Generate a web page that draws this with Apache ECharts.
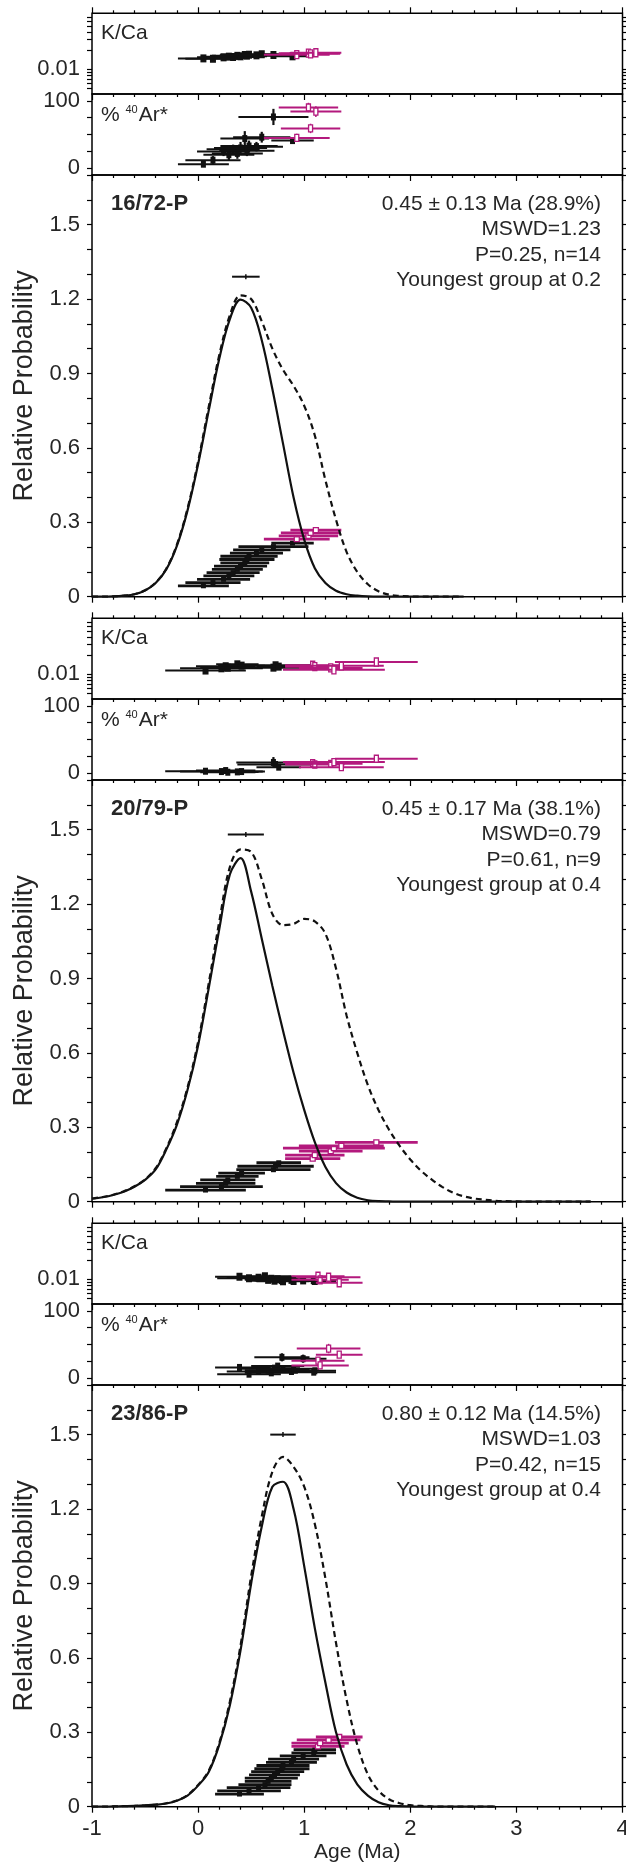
<!DOCTYPE html>
<html lang="en">
<head>
<meta charset="UTF-8">
<title>40Ar/39Ar age probability plots</title>
<script src="https://cdn.jsdelivr.net/npm/echarts@6/dist/echarts.min.js"></script>
<style>
  html, body { margin: 0; padding: 0; background: #fff; }
  #chart { width: 626px; height: 1870px; }
</style>
</head>
<body>
<div id="chart"></div>
<script>
// ---------- data ----------
var sampleNames = ['16/72-P', '20/79-P', '23/86-P'];
var statLines = [
  ['0.45 \u00b1 0.13 Ma (28.9%)', 'MSWD=1.23', 'P=0.25, n=14', 'Youngest group at 0.2'],
  ['0.45 \u00b1 0.17 Ma (38.1%)', 'MSWD=0.79', 'P=0.61, n=9', 'Youngest group at 0.4'],
  ['0.80 \u00b1 0.12 Ma (14.5%)', 'MSWD=1.03', 'P=0.42, n=15', 'Youngest group at 0.4']
];

// tick labels
var ageTicks = [-1, 0, 1, 2, 3, 4];
var probLabels = [0, 0.3, 0.6, 0.9, 1.2, 1.5];
var arLabels = [0, 100];
var arTicks = [0, 25, 50, 75, 100];
var kcaLabels = [0.01];
var kcaTicks = [0.005, 0.006, 0.007, 0.008, 0.009, 0.01, 0.02, 0.03, 0.04, 0.05, 0.06, 0.07];

// weighted mean ages (age, error, plotted level)
var meanAge = [0.45, 0.45, 0.80];
var meanErr = [0.13, 0.17, 0.12];
var meanLevel = [1.29, 1.48, 1.50];

// probability curves, sampled every 0.1 Ma from -1
var curveAges = [-1.0,-0.9,-0.8,-0.7,-0.6,-0.5,-0.4,-0.3,-0.2,-0.1,0.0,0.1,0.2,0.3,0.4,0.5,0.6,0.7,0.8,0.9,
  1.0,1.1,1.2,1.3,1.4,1.5,1.6,1.7,1.8,1.9,2.0,2.1,2.2,2.3,2.4,2.5,2.6,2.7,2.8,2.9,3.0,3.1,3.2,3.3,3.4,3.5,3.6,3.7];
var g1Solid = [0,0,0.001,0.004,0.010,0.025,0.055,0.110,0.205,0.347,0.534,0.750,0.960,1.120,1.198,1.165,1.034,0.837,0.618,0.400,
  0.230,0.115,0.055,0.024,0.010,0.004,0.001,0,0,0,0,0,0,0,0,0];
var g1Dashed = [0,0,0.001,0.004,0.010,0.026,0.057,0.113,0.210,0.355,0.545,0.765,0.975,1.135,1.215,1.200,1.110,1.000,0.915,0.850,
  0.770,0.650,0.470,0.310,0.180,0.100,0.050,0.022,0.008,0.003,0.001,0,0,0,0,0];
var g2Solid = [0.012,0.018,0.027,0.040,0.060,0.088,0.130,0.210,0.310,0.450,0.630,0.860,1.100,1.320,1.385,1.250,1.060,0.870,0.690,0.520,
  0.370,0.240,0.140,0.075,0.037,0.016,0.006,0.002,0.001,0,0,0,0,0,0,0,0,0,0,0,0,0,0,0,0,0,0,0];
var g2Dashed = [0.013,0.019,0.028,0.042,0.062,0.090,0.135,0.215,0.320,0.460,0.645,0.880,1.130,1.350,1.420,1.410,1.300,1.160,1.115,1.120,
  1.140,1.130,1.080,0.940,0.750,0.600,0.470,0.370,0.290,0.225,0.170,0.125,0.090,0.060,0.037,0.022,0.013,0.008,0.004,0.002,
  0.001,0,0,0,0,0,0,0];
var g3Solid = [0,0,0.001,0.002,0.003,0.005,0.008,0.013,0.024,0.045,0.085,0.140,0.250,0.410,0.630,0.900,1.130,1.290,1.310,1.200,
  0.970,0.720,0.500,0.300,0.170,0.090,0.045,0.018,0.006,0.002,0.001,0,0,0,0,0,0,0,0];
var g3Dashed = [0,0,0.001,0.002,0.003,0.005,0.008,0.014,0.025,0.047,0.088,0.145,0.258,0.425,0.650,0.930,1.170,1.350,1.410,1.370,
  1.290,1.140,0.920,0.660,0.430,0.250,0.130,0.065,0.030,0.014,0.006,0.003,0.001,0,0,0,0,0,0];

// single grains: included (black) first, then excluded (magenta)
var g1Age  = [0.05,0.14,0.24,0.29,0.33,0.37,0.40,0.44,0.46,0.48,0.55,0.60,0.71,0.89, 0.93,1.04,1.06,1.11];
var g1Err  = [0.24,0.26,0.25,0.24,0.25,0.24,0.25,0.23,0.26,0.27,0.25,0.27,0.33,0.20, 0.31,0.28,0.28,0.24];
var g1KCa  = [0.0150,0.0148,0.0156,0.0160,0.0158,0.0165,0.0162,0.0170,0.0166,0.0172,0.0168,0.0175,0.0170,0.0162, 0.0172,0.0182,0.0178,0.0185];
var g1Ar   = [6,12,25,20,28,22,30,44,26,33,32,46,76,41, 45,90,59,84];
var g1ArE  = [4,6,7,8,7,8,9,11,8,8,7,8,12,4, 6,7,7,8];
var g1Rank = [0.044,0.057,0.070,0.084,0.097,0.110,0.123,0.136,0.150,0.163,0.176,0.189,0.202,0.216, 0.232,0.245,0.257,0.268];
var g1Kept = 14;

var g2Age  = [0.07,0.22,0.26,0.28,0.37,0.41,0.71,0.73,0.76, 1.08,1.10,1.25,1.28,1.35,1.68];
var g2Err  = [0.38,0.39,0.28,0.26,0.20,0.22,0.35,0.36,0.21, 0.26,0.28,0.30,0.48,0.40,0.39];
var g2KCa  = [0.0115,0.0125,0.0135,0.0128,0.0145,0.0138,0.0128,0.0140,0.0133, 0.0140,0.0133,0.0127,0.0118,0.0137,0.0158];
var g2Ar   = [3,2.5,4,1.5,2,2.5,16,13,9, 15,13,14,16.5,9,21.5];
var g2ArE  = [2,2,3,2,2,3,8,4,3, 3,3,3,3,4,4];
var g2Rank = [0.047,0.061,0.074,0.088,0.102,0.115,0.129,0.143,0.157, 0.174,0.188,0.204,0.216,0.225,0.239];
var g2Kept = 9;

var g3Age  = [0.39,0.48,0.57,0.63,0.66,0.69,0.72,0.75,0.79,0.80,0.88,0.90,0.99,1.09,1.10, 1.13,1.15,1.23,1.33];
var g3Err  = [0.23,0.30,0.30,0.25,0.22,0.25,0.24,0.25,0.26,0.25,0.24,0.24,0.22,0.21,0.20, 0.25,0.27,0.30,0.22];
var g3KCa  = [0.0110,0.0104,0.0106,0.0112,0.0098,0.0102,0.0095,0.0100,0.0097,0.0093,0.0098,0.0094,0.0096,0.0097,0.0094, 0.0112,0.0098,0.0108,0.0088];
var g3Ar   = [16,6,10,14,12,8,15,18,31,13,10,14,29,9,11, 26,19,44,35];
var g3ArE  = [3,3,4,4,4,3,4,4,6,4,4,4,6,4,4, 5,5,7,5];
var g3Rank = [0.051,0.064,0.077,0.089,0.102,0.115,0.128,0.141,0.153,0.166,0.179,0.192,0.205,0.217,0.230, 0.243,0.256,0.269,0.281];
var g3Kept = 15;

// ---------- layout & style ----------
var INK = '#111';
var MAGENTA = '#b3197d';
var TXT = '#262626';
var FONT = 'Liberation Sans, Arial, sans-serif';
var GROUP_STEP = 605;
var PLOT_LEFT = 92, PLOT_W = 530.5;
var PANELS = [
  { top: 13.3, h: 80.7 },   // K/Ca
  { top: 94, h: 81 },       // % 40Ar*
  { top: 175, h: 421.7 }    // relative probability
];

var groups = [
  { age: g1Age, err: g1Err, kca: g1KCa, ar: g1Ar, arE: g1ArE, rank: g1Rank, kept: g1Kept, solid: g1Solid, dashed: g1Dashed },
  { age: g2Age, err: g2Err, kca: g2KCa, ar: g2Ar, arE: g2ArE, rank: g2Rank, kept: g2Kept, solid: g2Solid, dashed: g2Dashed },
  { age: g3Age, err: g3Err, kca: g3KCa, ar: g3Ar, arE: g3ArE, rank: g3Rank, kept: g3Kept, solid: g3Solid, dashed: g3Dashed }
];

function pairs(xs, ys) {
  return ys.map(function (y, i) { return [xs[i], y]; });
}

// horizontal error bar + optional vertical bar + box marker
// (filled box for included grains, open box for excluded ones)
function errRender(lw, boxW, boxH, openW) {
  return function (params, api) {
    var x = api.value(0), y = api.value(1), e = api.value(2);
    var lo = api.value(3), hi = api.value(4), kept = api.value(5);
    var c = kept ? INK : MAGENTA;
    var a = api.coord([x - e, y]), b = api.coord([x + e, y]), p = api.coord([x, y]);
    var kids = [{ type: 'line', shape: { x1: a[0], y1: a[1], x2: b[0], y2: b[1] },
      style: { stroke: c, lineWidth: lw } }];
    if (hi > lo) {
      var t = api.coord([x, hi]), u = api.coord([x, lo]);
      kids.push({ type: 'line', shape: { x1: p[0], y1: t[1], x2: p[0], y2: u[1] },
        style: { stroke: c, lineWidth: kept ? 2.2 : 1.5 } });
    }
    var w = kept ? boxW : openW;
    kids.push({ type: 'rect', shape: { x: p[0] - w / 2, y: p[1] - boxH / 2, width: w, height: boxH },
      style: kept ? { fill: c } : { fill: '#fff', stroke: c, lineWidth: 1.3 } });
    return { type: 'group', children: kids };
  };
}

function meanRender(params, api) {
  var x = api.value(0), y = api.value(1), e = api.value(2);
  var a = api.coord([x - e, y]), b = api.coord([x + e, y]), p = api.coord([x, y]);
  return { type: 'group', children: [
    { type: 'line', shape: { x1: a[0], y1: a[1], x2: b[0], y2: b[1] }, style: { stroke: INK, lineWidth: 2 } },
    { type: 'line', shape: { x1: p[0], y1: p[1] - 2.5, x2: p[0], y2: p[1] + 2.5 }, style: { stroke: INK, lineWidth: 1.5 } }
  ] };
}

var grids = [], xAxes = [], yAxes = [], series = [], texts = [];
var tickStyle = { color: '#000', width: 1.2 };

function addAxes(gi, panel, isLast) {
  var xBase = {
    gridIndex: gi, type: 'value', min: ageTicks[0], max: ageTicks[ageTicks.length - 1], interval: 1,
    axisLine: { show: false, onZero: false }, splitLine: { show: false },
    axisTick: { show: true, inside: false, length: 6, lineStyle: tickStyle },
    minorTick: { show: true, splitNumber: 5, length: 3, lineStyle: tickStyle },
    axisLabel: { show: false }
  };
  var bottom = Object.assign({}, xBase, { position: 'bottom' });
  if (isLast) {
    bottom.axisLabel = { show: true, margin: 11, fontSize: 22, color: TXT, fontFamily: FONT };
    bottom.name = 'Age (Ma)';
    bottom.nameLocation = 'middle';
    bottom.nameGap = 35;
    bottom.nameTextStyle = { fontSize: 21, color: TXT, fontFamily: FONT };
  }
  var top = Object.assign({}, xBase, { position: 'top' });
  if (panel !== 0) { top.axisTick = { show: false }; top.minorTick = { show: false }; }
  xAxes.push(bottom, top);

  var yBase;
  if (panel === 0) {
    yBase = { type: 'log', logBase: 10, min: 0.004, max: 0.08,
      axisTick: { show: true, length: 5, lineStyle: tickStyle, customValues: kcaTicks },
      axisLabel: { customValues: kcaLabels, formatter: function (v) { return v === 0.01 ? '0.01' : ''; } } };
  } else if (panel === 1) {
    yBase = { type: 'value', min: -10, max: 110,
      axisTick: { show: true, length: 5, lineStyle: tickStyle, customValues: arTicks },
      axisLabel: { customValues: arLabels } };
  } else {
    yBase = { type: 'value', min: 0, max: 1.7, interval: 0.1,
      axisTick: { show: true, length: 5, lineStyle: tickStyle },
      axisLabel: { customValues: probLabels },
      name: 'Relative Probability', nameLocation: 'middle', nameGap: 52,
      nameTextStyle: { fontSize: 27, color: TXT, fontFamily: FONT } };
  }
  var left = Object.assign({ gridIndex: gi, position: 'left',
    axisLine: { show: false, onZero: false }, splitLine: { show: false } }, yBase);
  left.axisLabel = Object.assign({ show: true, margin: 12, fontSize: 22, color: TXT, fontFamily: FONT }, yBase.axisLabel);
  var right = Object.assign({}, yBase, { gridIndex: gi, position: 'right', name: '',
    axisLine: { show: false, onZero: false }, splitLine: { show: false }, axisLabel: { show: false } });
  yAxes.push(left, right);
}

groups.forEach(function (grp, g) {
  var o = g * GROUP_STEP;
  PANELS.forEach(function (pn, k) {
    var gi = g * 3 + k;
    grids.push({ left: PLOT_LEFT, width: PLOT_W, top: pn.top + o, height: pn.h,
      show: true, borderColor: '#000', borderWidth: 1.5, backgroundColor: 'transparent',
      containLabel: false, outerBoundsMode: 'none' });
    addAxes(gi, k, g === 2 && k === 2);
  });

  var kcaData = [], arData = [], rankData = [];
  grp.age.forEach(function (a, i) {
    var kept = i < grp.kept ? 1 : 0;
    kcaData.push([a, grp.kca[i], grp.err[i], grp.kca[i], grp.kca[i], kept]);
    arData.push([a, grp.ar[i], grp.err[i], grp.ar[i] - grp.arE[i], grp.ar[i] + grp.arE[i], kept]);
    rankData.push([a, grp.rank[i], grp.err[i], grp.rank[i], grp.rank[i], kept]);
  });

  var ax = function (k) { return 2 * (g * 3 + k); };
  series.push({ type: 'custom', xAxisIndex: ax(0), yAxisIndex: ax(0), encode: { x: 0, y: 1 },
    renderItem: errRender(2, 6, 8, 4), data: kcaData, silent: true, animation: false });
  series.push({ type: 'custom', xAxisIndex: ax(1), yAxisIndex: ax(1), encode: { x: 0, y: 1 },
    renderItem: errRender(2, 5, 7, 4), data: arData, silent: true, animation: false });
  series.push({ type: 'line', xAxisIndex: ax(2), yAxisIndex: ax(2), data: pairs(curveAges, grp.solid),
    symbol: 'none', smooth: 0.35, silent: true, animation: false,
    lineStyle: { color: INK, width: 2.2 } });
  series.push({ type: 'line', xAxisIndex: ax(2), yAxisIndex: ax(2), data: pairs(curveAges, grp.dashed),
    symbol: 'none', smooth: 0.35, silent: true, animation: false,
    lineStyle: { color: INK, width: 2.2, type: [6, 4] } });
  series.push({ type: 'custom', xAxisIndex: ax(2), yAxisIndex: ax(2), encode: { x: 0, y: 1 },
    renderItem: errRender(2.8, 5, 5, 5), data: rankData, silent: true, animation: false });
  series.push({ type: 'custom', xAxisIndex: ax(2), yAxisIndex: ax(2), encode: { x: 0, y: 1 },
    renderItem: meanRender, data: [[meanAge[g], meanLevel[g], meanErr[g]]], silent: true, animation: false });

  // panel labels and annotations
  texts.push({ type: 'text', x: 101, y: 33.3 + o, silent: true,
    style: { text: 'K/Ca', fontSize: 21, fontFamily: FONT, fill: TXT, verticalAlign: 'middle' } });
  texts.push({ type: 'text', x: 101, y: 115 + o, silent: true,
    style: { text: '% {sup|40}Ar*', fontSize: 21, fontFamily: FONT, fill: TXT, verticalAlign: 'middle',
      rich: { sup: { fontSize: 11, fontFamily: FONT, fill: TXT, verticalAlign: 'top', padding: [0, 1, 0, 0] } } } });
  texts.push({ type: 'text', x: 111, y: 204.3 + o, silent: true,
    style: { text: sampleNames[g], fontSize: 22, fontWeight: 'bold', fontFamily: FONT, fill: TXT, verticalAlign: 'middle' } });
  texts.push({ type: 'text', x: 601, y: 191.6 + o, silent: true,
    style: { text: statLines[g].join('\n'), fontSize: 21, lineHeight: 25.4, fontFamily: FONT, fill: TXT,
      align: 'right', verticalAlign: 'top' } });
});

var chart = echarts.init(document.getElementById('chart'));
chart.setOption({
  backgroundColor: '#fff',
  animation: false,
  grid: grids,
  xAxis: xAxes,
  yAxis: yAxes,
  series: series,
  graphic: texts
});
</script>
</body>
</html>
